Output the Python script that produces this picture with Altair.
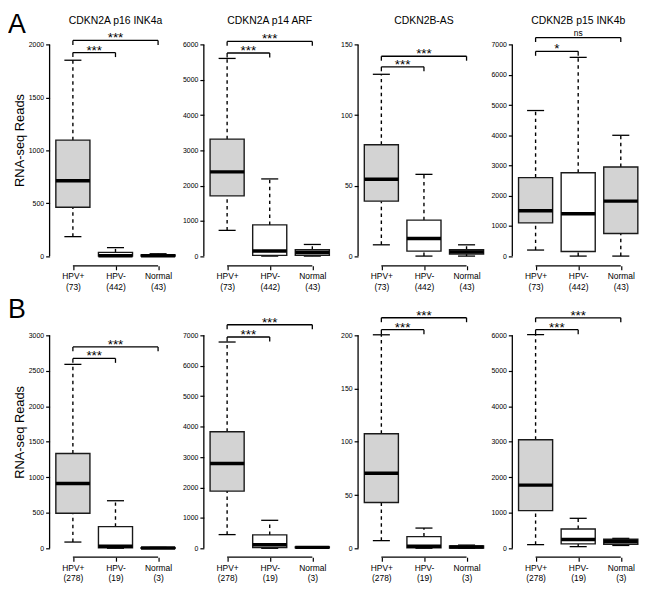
import altair as alt
import pandas as pd

FONT = "Liberation Sans"

groups = ["HPV+", "HPV-", "Normal"]
positions = [1, 2, 3]
box_fills = ["#d3d3d3", "#ffffff", "#d3d3d3"]
counts_A = [73, 442, 43]
counts_B = [278, 19, 3]
titles_A = ["CDKN2A p16 INK4a", "CDKN2A p14 ARF", "CDKN2B-AS", "CDKN2B p15 INK4b"]

# box statistics per group (HPV+, HPV-, Normal)
A1 = dict(lo=[184, 0, 0], q1=[462, 0, 0], med=[712, 4, 4], q3=[1097, 35, 12], hi=[1853, 80, 22])
A2 = dict(lo=[730, 0, 0], q1=[1710, 20, 20], med=[2390, 145, 100], q3=[3320, 885, 180], hi=[5610, 2190, 330])
A3 = dict(lo=[8, 0, 0], q1=[39, 3.5, 1.5], med=[54.5, 12.5, 3], q3=[79, 25.5, 4.5], hi=[129, 58, 8])
A4 = dict(lo=[200, 0, 0], q1=[1100, 150, 750], med=[1500, 1400, 1820], q3=[2600, 2760, 2950], hi=[4820, 6580, 4000])
B1 = dict(lo=[88, 0, 0], q1=[493, 8, 0], med=[912, 30, 3], q3=[1335, 305, 8], hi=[2591, 670, 12])
B2 = dict(lo=[450, 0, 5], q1=[1880, 25, 15], med=[2790, 115, 30], q3=[3830, 440, 45], hi=[6780, 920, 55])
B3 = dict(lo=[7.2, 0, 0], q1=[43, 0.5, 0.3], med=[70.5, 2, 1.2], q3=[107.6, 11, 2.2], hi=[200.5, 19, 3])
B4 = dict(lo=[103, 47, 80], q1=[1060, 125, 115], med=[1780, 245, 190], q3=[3060, 545, 255], hi=[6020, 845, 280])

# y-axis tick values
A1_ticks = [0, 500, 1000, 1500, 2000]
A2_ticks = [0, 1000, 2000, 3000, 4000, 5000, 6000]
A3_ticks = [0, 50, 100, 150]
A4_ticks = [0, 1000, 2000, 3000, 4000, 5000, 6000, 7000]
B1_ticks = [0, 500, 1000, 1500, 2000, 2500, 3000]
B2_ticks = [0, 1000, 2000, 3000, 4000, 5000, 6000, 7000]
B3_ticks = [0, 50, 100, 150, 200]
B4_ticks = [0, 1000, 2000, 3000, 4000, 5000, 6000]

# significance brackets: HPV+ vs HPV- (inner), HPV+ vs Normal (outer)
bracket_to = [2, 3]
A1_br = dict(y=[1925, 2040], label=["***", "***"])
A2_br = dict(y=[5764, 6093], label=["***", "***"])
A3_br = dict(y=[134.3, 141.8], label=["***", "***"])
A4_br = dict(y=[6780, 7236], label=["*", "ns"])
B1_br = dict(y=[2675, 2837], label=["***", "***"])
B2_br = dict(y=[6945, 7348], label=["***", "***"])
B3_br = dict(y=[205.3, 216.5], label=["***", "***"])
B4_br = dict(y=[6159, 6494], label=["***", "***"])

W = 128
X_DOM = [0.4535, 3.43]
ROW_GEOM = {0: (238.5, -0.0459, 1.0717), 1: (254.0, -0.0419, 1.1395)}
ONE = pd.DataFrame({"k": [0]})


def panel(st, ticks, br, counts, row, col, title=None, letter=None):
    H, lo_f, hi_f = ROW_GEOM[row]
    M = ticks[-1]
    xs = alt.Scale(domain=X_DOM, nice=False, zero=False)
    ys = alt.Scale(domain=[lo_f * M, hi_f * M], nice=False, zero=False)
    expr = (f"datum.value == 1 ? ['{groups[0]}', '({counts[0]})'] : "
            f"datum.value == 2 ? ['{groups[1]}', '({counts[1]})'] : "
            f"['{groups[2]}', '({counts[2]})']")
    xax = alt.Axis(values=positions, labelExpr=expr, domain=False, grid=False,
                   ticks=True, tickSize=4, tickWidth=1.2, tickColor="black",
                   labelFont=FONT, labelFontSize=8.5, labelLineHeight=10.5,
                   labelColor="black", labelPadding=2, labelOverlap=False,
                   labelFlush=False, title=None)
    yax = alt.Axis(values=ticks, format="d", domain=False, grid=False, tickSize=4,
                   tickWidth=1.2, tickColor="black", labelFont=FONT,
                   labelFontSize=7, labelColor="black", labelPadding=2,
                   labelFlush=False, labelOverlap=False, title=None)

    def X(f):
        return alt.X(f, type="quantitative", scale=xs, axis=xax)

    def Y(f):
        return alt.Y(f, type="quantitative", scale=ys, axis=yax)

    df = pd.DataFrame({"pos": positions, "group": groups, "fill": box_fills,
                       "lo": st["lo"], "q1": st["q1"], "med": st["med"],
                       "q3": st["q3"], "hi": st["hi"]})
    df["left"] = df["pos"] - 0.4
    df["right"] = df["pos"] + 0.4
    df["capl"] = df["pos"] - 0.2
    df["capr"] = df["pos"] + 0.2
    base = alt.Chart(df)
    layers = []
    dash = dict(strokeDash=[3.5, 3.5], strokeWidth=1.4, color="black")
    layers.append(base.mark_rule(**dash).encode(x=X("pos"), y=Y("q3"), y2="hi"))
    layers.append(base.mark_rule(**dash).encode(x=X("pos"), y=Y("lo"), y2="q1"))
    layers.append(base.mark_rule(strokeWidth=1.3, color="black").encode(x=X("capl"), x2="capr", y=Y("hi")))
    layers.append(base.mark_rule(strokeWidth=1.3, color="black").encode(x=X("capl"), x2="capr", y=Y("lo")))
    layers.append(base.mark_rect(stroke="#1a1a1a", strokeWidth=1.4).encode(
        x=X("left"), x2="right", y=Y("q1"), y2="q3", fill=alt.Fill("fill:N", scale=None)))
    layers.append(base.mark_rule(strokeWidth=3.5, color="black").encode(x=X("left"), x2="right", y=Y("med")))

    bdf = pd.DataFrame({"x1": [1, 1], "x2": bracket_to, "y": br["y"], "label": br["label"]})
    bdf["xm"] = (bdf["x1"] + bdf["x2"]) / 2
    bb = alt.Chart(bdf)
    layers.append(bb.mark_rule(strokeWidth=1.3, color="black").encode(x=X("x1"), x2="x2", y=Y("y")))
    layers.append(bb.mark_rule(strokeWidth=1.3, color="black", y2Offset=4.5).encode(x=X("x1"), y=Y("y"), y2="y"))
    layers.append(bb.mark_rule(strokeWidth=1.3, color="black", y2Offset=4.5).encode(x=X("x2"), y=Y("y"), y2="y"))
    layers.append(bb.transform_filter(alt.datum.label != "ns").mark_text(
        font=FONT, fontSize=13.5, color="black", baseline="alphabetic", dy=2).encode(
        x=X("xm"), y=Y("y"), text="label:N"))
    layers.append(bb.transform_filter(alt.datum.label == "ns").mark_text(
        font=FONT, fontSize=8.5, color="black", baseline="alphabetic", dy=-2).encode(
        x=X("xm"), y=Y("y"), text="label:N"))

    # axis lines (R style: y from 0 to top tick, x from first to last group)
    ydf = pd.DataFrame({"y0": [ticks[0]], "y1": [ticks[-1]]})
    layers.append(alt.Chart(ydf).mark_rule(strokeWidth=1.3, color="black").encode(
        x=alt.value(0), y=Y("y0"), y2="y1"))
    xdf = pd.DataFrame({"x0": [positions[0]], "x1": [positions[-1]]})
    layers.append(alt.Chart(xdf).mark_rule(strokeWidth=1.3, color="black").encode(
        y=alt.value(H), x=X("x0"), x2="x1"))

    if title:
        tdf = pd.DataFrame({"pos": [2], "t": [title]})
        layers.append(alt.Chart(tdf).mark_text(font=FONT, fontSize=10.5, color="black",
                                               baseline="alphabetic").encode(
            x=X("pos"), y=alt.value(-6), text="t:N"))
    if col == 0:
        layers.append(alt.Chart(ONE).mark_text(font=FONT, fontSize=13, color="black", angle=270,
                                               baseline="middle", align="center").encode(
            x=alt.value(-30), y=alt.value(112 if row == 0 else 128), text=alt.value("RNA-seq Reads")))
    if letter:
        layers.append(alt.Chart(ONE).mark_text(font=FONT, fontSize=27, color="black",
                                               baseline="top", align="left").encode(
            x=alt.value(-42), y=alt.value(-18 if row == 0 else -9), text=alt.value(letter)))
    return alt.layer(*layers).properties(width=W, height=H)


panels = [
    panel(A1, A1_ticks, A1_br, counts_A, 0, 0, titles_A[0], "A"),
    panel(A2, A2_ticks, A2_br, counts_A, 0, 1, titles_A[1]),
    panel(A3, A3_ticks, A3_br, counts_A, 0, 2, titles_A[2]),
    panel(A4, A4_ticks, A4_br, counts_A, 0, 3, titles_A[3]),
    panel(B1, B1_ticks, B1_br, counts_B, 1, 0, None, "B"),
    panel(B2, B2_ticks, B2_br, counts_B, 1, 1),
    panel(B3, B3_ticks, B3_br, counts_B, 1, 2),
    panel(B4, B4_ticks, B4_br, counts_B, 1, 3),
]

chart = alt.concat(*panels, columns=4, bounds="flush",
                   spacing={"row": 39.7, "column": 27.7}).properties(
    padding=0).configure(font=FONT).configure_view(stroke=None)

chart.save("out.html", embed_options={"renderer": "svg", "actions": False})
